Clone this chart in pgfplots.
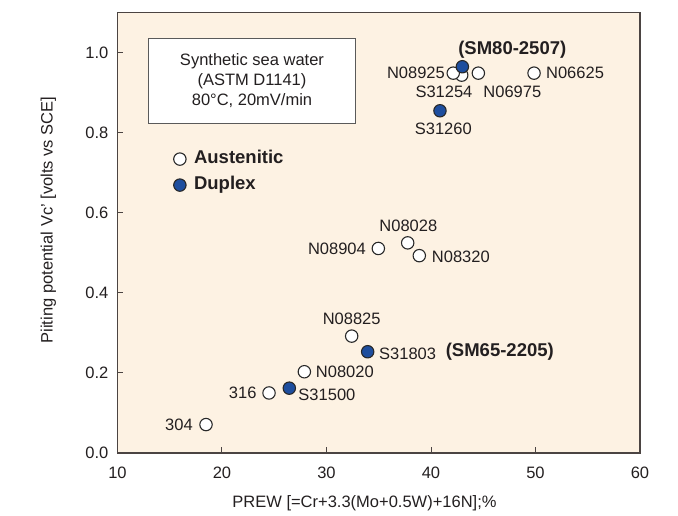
\documentclass[border=0pt]{standalone}
\usepackage{pgfplots}
\pgfplotsset{compat=1.18}
\usepackage{fontspec}
\setmainfont{Liberation Sans}

\definecolor{bgcol}{RGB}{253,242,227}
\definecolor{axiscol}{RGB}{75,68,66}
\definecolor{txtcol}{RGB}{35,31,32}
\definecolor{duplexblue}{RGB}{30,78,158}
\definecolor{mkline}{RGB}{40,40,40}
\definecolor{boxcol}{RGB}{90,90,90}

\newcommand{\lblfont}{\fontsize{16.5}{20}\selectfont}
\newcommand{\boldfont}{\bfseries\fontsize{18.5}{22}\selectfont}

\begin{document}
\begin{tikzpicture}
	% keep the reference's page size (678x515) around the axis box
	\path (-117.5pt,-62pt) rectangle (560.5pt,453pt);
	\begin{axis}[
	scale only axis,
	width=522.5pt,
	height=440.3pt,
	xmin=10, xmax=60,
	ymin=0, ymax=1.1,
	xtick={10,20,...,60},
	ytick={0,0.2,0.4,0.6,0.8,1.0},
	xtick pos=bottom,
	ytick pos=left,
	tick align=inside,
	major tick length=6pt,
	axis background/.style={fill=bgcol},
	axis line style={axiscol, line width=1.4pt},
	every tick/.style={axiscol, line width=1pt},
	/pgf/number format/assume math mode=true,
	yticklabel style={/pgf/number format/fixed, /pgf/number format/fixed zerofill,
		/pgf/number format/precision=1, anchor=east, inner sep=0pt, xshift=-9pt},
	xticklabel style={anchor=center, inner sep=0pt, yshift=-19.5pt},
	tick label style={font=\lblfont, text=txtcol},
	xlabel={PREW [=Cr+3.3(Mo+0.5W)+16N];\%},
	ylabel={Piiting potential Vc' [volts vs SCE]},
	xlabel style={at={(axis description cs:0.4727,-0.1142)}, anchor=center, inner sep=0pt, font=\lblfont, text=txtcol},
	ylabel style={at={(axis description cs:-0.1324,0.529)}, anchor=center, inner sep=0pt, font=\lblfont, text=txtcol},
	legend style={at={(axis description cs:0.1014,0.638)}, anchor=west, draw=none, fill=none,
		font=\boldfont, text=txtcol, row sep=5pt, column sep=6pt,
		nodes={text height=13pt, text depth=4pt}},
	legend cell align=left,
	clip=false,
	]
		% austenitic grades (S31254 first so N08925 sits over it)
		\addplot [only marks, mark=*, mark size=6.2pt,
			mark options={fill=white, draw=mkline, line width=1.1pt}] table {
			x     y
			18.47 0.071
			24.50 0.150
			27.88 0.203
			32.41 0.292
			34.96 0.511
			37.77 0.525
			38.88 0.493
			42.94 0.944
			42.13 0.949
			44.53 0.949
			49.86 0.949
		};
		\addlegendentry{Austenitic}
		% duplex grades
		\addplot [only marks, mark=*, mark size=6.2pt,
			mark options={fill=duplexblue, draw=mkline, line width=1.1pt}] table {
			x     y
			26.44 0.162
			33.94 0.253
			40.86 0.855
			43.00 0.965
		};
		\addlegendentry{Duplex}

		\node[draw=boxcol, fill=white, line width=0.8pt, minimum width=207pt, minimum height=85pt,
			align=center, inner sep=0pt, font=\lblfont, text=txtcol]
			at (axis cs:22.87,0.930) {Synthetic sea water\\(ASTM D1141)\\80°C, 20mV/min};

		% grade labels
		\begin{scope}[every node/.style={inner sep=0pt, font=\lblfont, text=txtcol}]
		\node[anchor=east]   at (axis cs:17.22,0.071) {304};
		\node[anchor=east]   at (axis cs:23.32,0.150) {316};
		\node[anchor=west]   at (axis cs:27.30,0.145) {S31500};
		\node[anchor=west]   at (axis cs:28.97,0.203) {N08020};
		\node[anchor=center] at (axis cs:32.41,0.336) {N08825};
		\node[anchor=west]   at (axis cs:35.02,0.249) {S31803};
		\node[anchor=east]   at (axis cs:33.78,0.509) {N08904};
		\node[anchor=center] at (axis cs:37.83,0.567) {N08028};
		\node[anchor=west]   at (axis cs:40.07,0.489) {N08320};
		\node[anchor=center] at (axis cs:41.18,0.811) {S31260};
		\node[anchor=east]   at (axis cs:41.34,0.949) {N08925};
		\node[anchor=center] at (axis cs:41.24,0.903) {S31254};
		\node[anchor=west]   at (axis cs:45.00,0.903) {N06975};
		\node[anchor=west]   at (axis cs:51.00,0.949) {N06625};
		\node[anchor=west, font=\boldfont]   at (axis cs:41.40,0.253) {(SM65-2205)};
		\node[anchor=center, font=\boldfont] at (axis cs:47.78,1.0085) {(SM80-2507)};
		\end{scope}
	\end{axis}
\end{tikzpicture}
\end{document}
